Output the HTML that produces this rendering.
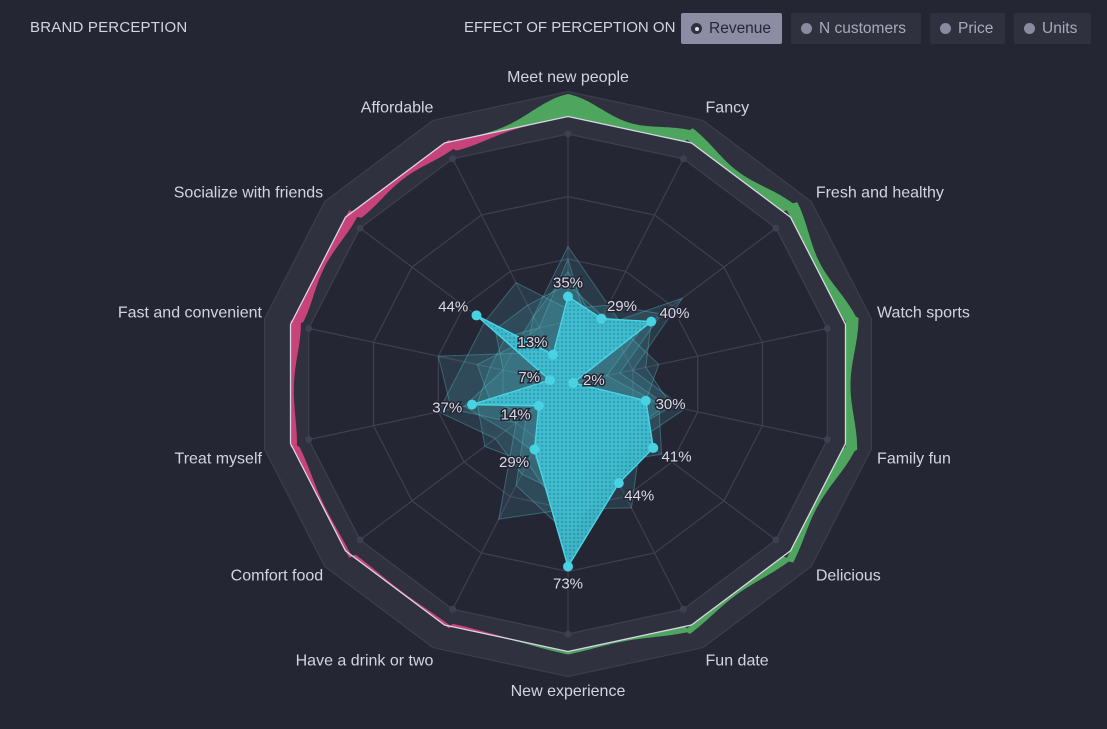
<!DOCTYPE html>
<html><head><meta charset="utf-8"><style>
body{margin:0;width:1107px;height:729px;background:#252634;font-family:"Liberation Sans",sans-serif;overflow:hidden;position:relative}
.title{position:absolute;left:30px;top:19px;color:#d4d4e0;font-size:15px;letter-spacing:0.2px}
.effect{position:absolute;left:464px;top:19px;color:#d4d4e0;font-size:15px}
.btn{position:absolute;top:13px;height:31px;background:#30313f;color:#a9a9bb;font-size:15.5px;line-height:31px;border-radius:2px;box-sizing:border-box;padding-left:28px}
.btn:before{content:"";position:absolute;left:10px;top:10px;width:11px;height:11px;border-radius:50%;background:#8a8b9e}
.btn.on{background:#8c8da3;color:#25263a}
.btn.on:before{background:#30313f}
.btn.on:after{content:"";position:absolute;left:13.5px;top:13.5px;width:4px;height:4px;border-radius:50%;background:#e0e0ea}
svg{position:absolute;left:0;top:0}
</style></head><body>
<div class="title">BRAND PERCEPTION</div>
<div class="effect">EFFECT OF PERCEPTION ON</div>
<div class="btn on" style="left:681px;width:101px">Revenue</div>
<div class="btn" style="left:791px;width:130px">N customers</div>
<div class="btn" style="left:930px;width:75px">Price</div>
<div class="btn" style="left:1014px;width:77px">Units</div>
<svg id="c" width="1107" height="729"></svg>
<script>
const categories=["Meet new people","Fancy","Fresh and healthy","Watch sports","Family fun","Delicious","Fun date","New experience","Have a drink or two","Comfort food","Treat myself","Fast and convenient","Socialize with friends","Affordable"];
const values=[35,29,40,2,30,41,44,73,29,14,37,7,44,13];
const effectPositive=[0.09,0.05,0.05,0.05,0.045,0.03,0.025,0.012,0,0,0,0,0,0];
const effectNegative=[0,0,0,0,0,0,0,0,0.012,0.012,0.025,0.04,0.04,0.04];
const bgSeries=[
[55,35,45,20,38,30,40,60,45,20,30,35,25,30],
[45,25,55,25,45,35,55,50,60,25,45,50,20,30],
[40,30,35,15,35,45,35,65,30,30,40,25,35,35],
[50,20,40,30,40,30,45,55,35,40,35,30,30,25],
[30,35,30,35,30,40,30,45,40,35,50,40,40,45]];
const ringLevels=[0.25,0.5,0.75,1];
const labelsText=values.map(v=>v+"%");
const cx=568,cy=384,RX=266,RY=250,N=categories.length;
const svg=document.getElementById('c');const NS="http://www.w3.org/2000/svg";
function ang(i){return -Math.PI/2+i*2*Math.PI/N}
function pt(i,r){const a=ang(i);return [cx+Math.cos(a)*r*RX,cy+Math.sin(a)*r*RY]}
function el(t,a,p){const e=document.createElementNS(NS,t);for(const k in a)e.setAttribute(k,a[k]);(p||svg).appendChild(e);return e}
function poly(r){return categories.map((c,i)=>pt(i,r).join(',')).join(' ')}
const band=el('path',{d:'M'+poly(1.17).split(' ').join('L')+'Z M'+poly(1.0).split(' ').reverse().join('L')+'Z',fill:'#30313f','fill-rule':'evenodd'});

el('polygon',{points:poly(1.17),fill:'none',stroke:'#3c3d4e','stroke-width':1.2});
ringLevels.forEach(r=>{const g=el('polygon',{points:poly(r),fill:'none',stroke:'#3e3f50','stroke-width':1.2});});
categories.forEach((c,i)=>{const p=pt(i,1);const s=el('line',{x1:cx,y1:cy,x2:p[0],y2:p[1],stroke:'#3e3f50','stroke-width':1.2});el('circle',{cx:p[0],cy:p[1],r:3.5,fill:'#3e3f50'});});
function polyR(th,r){
  const step=2*Math.PI/N;let t=th+Math.PI/2;t=((t%(2*Math.PI))+2*Math.PI)%(2*Math.PI);
  const i=Math.floor(t/step);const a=pt(i,r),b=pt((i+1)%N,r);
  const dx=Math.cos(th),dy=Math.sin(th);const ex=b[0]-a[0],ey=b[1]-a[1];
  const den=dx*ey-dy*ex;const s=((a[0]-cx)*ey-(a[1]-cy)*ex)/den;return [cx+dx*s,cy+dy*s];
}
function bumpAt(arr,t){const step=2*Math.PI/N;let u=t+Math.PI/2;u=((u%(2*Math.PI))+2*Math.PI)%(2*Math.PI);const pos=u/step;let s=0;
  for(let i=0;i<N;i++){let d=pos-i;if(d>N/2)d-=N;if(d<-N/2)d+=N;s+=arr[i]*Math.exp(-(d*d)/(2*0.28*0.28));}return s}
function effect(arr,sign,color,name){
  let out=[],inn=[];const M=900;
  for(let k=0;k<=M;k++){const th=-Math.PI/2+k*2*Math.PI/M;const base=polyR(th,1.07);const b=bumpAt(arr,th);const sc=(1.07+sign*b)/1.07;
    out.push([cx+(base[0]-cx)*sc,cy+(base[1]-cy)*sc]);inn.push([base[0],base[1]]);}
  const d='M'+out.map(p=>p[0].toFixed(1)+','+p[1].toFixed(1)).join('L')+'L'+inn.reverse().map(p=>p[0].toFixed(1)+','+p[1].toFixed(1)).join('L')+'Z';
  const e=el('path',{d:d,fill:color});
}
effect(effectPositive,1,'#4ea65e','positive-effect-area');
effect(effectNegative,-1,'#c8437a','negative-effect-area');
const wl=el('polygon',{points:poly(1.07),fill:'none',stroke:'#d6d6e4','stroke-width':1.3});
const defs=el('defs',{});const pat=el('pattern',{id:'dots',width:4,height:4,patternUnits:'userSpaceOnUse'},defs);
el('rect',{width:4,height:4,fill:'#3fc3d6'},pat);el('circle',{cx:2,cy:2,r:0.9,fill:'#2a8fa3'},pat);
function spoly(v){return v.map((x,i)=>pt(i,x/100).join(',')).join(' ')}
bgSeries.forEach(s=>{const p=el('polygon',{points:spoly(s),fill:'#4fb8c4','fill-opacity':0.14,stroke:'#5cc8d4','stroke-opacity':0.35,'stroke-width':1});});
const mp=el('polygon',{points:spoly(values),fill:'url(#dots)','fill-opacity':0.9,stroke:'#48d2e2','stroke-width':1.5});

values.forEach((v,i)=>{const p=pt(i,v/100);const c=el('circle',{cx:p[0],cy:p[1],r:5,fill:'#48d2e2'});});
values.forEach((v,i)=>{const p=pt(i,v/100);const a=ang(i);let x=p[0],y=p[1];
  let ox=Math.cos(a),oy=Math.sin(a);let anchor='middle';
  if(Math.abs(ox)>0.3){anchor=ox>0?'start':'end';x+=ox*8+(ox>0?2:-2);y+=oy*14+5}else{y+=oy>0?22:-9;}
  if(i===0){y=p[1]-9}
  const t=el('text',{x:x,y:y,'text-anchor':anchor,fill:'#dadae6','font-size':15,stroke:'#252634','stroke-width':3,'paint-order':'stroke'});t.textContent=labelsText[i];});
categories.forEach((c,i)=>{const a=ang(i);const ox=Math.cos(a),oy=Math.sin(a);let x=cx+ox*317,yy=cy+oy*307;let anchor='middle';if(ox>0.2)anchor='start';else if(ox<-0.2){anchor='end';x+=3;}
  if(Math.abs(oy)<0.3)yy+=oy>0?6:-3;
  const t=el('text',{x:x,y:yy+5,'text-anchor':anchor,fill:'#d4d4e0','font-size':16});t.textContent=c;});
</script>
</body></html>
